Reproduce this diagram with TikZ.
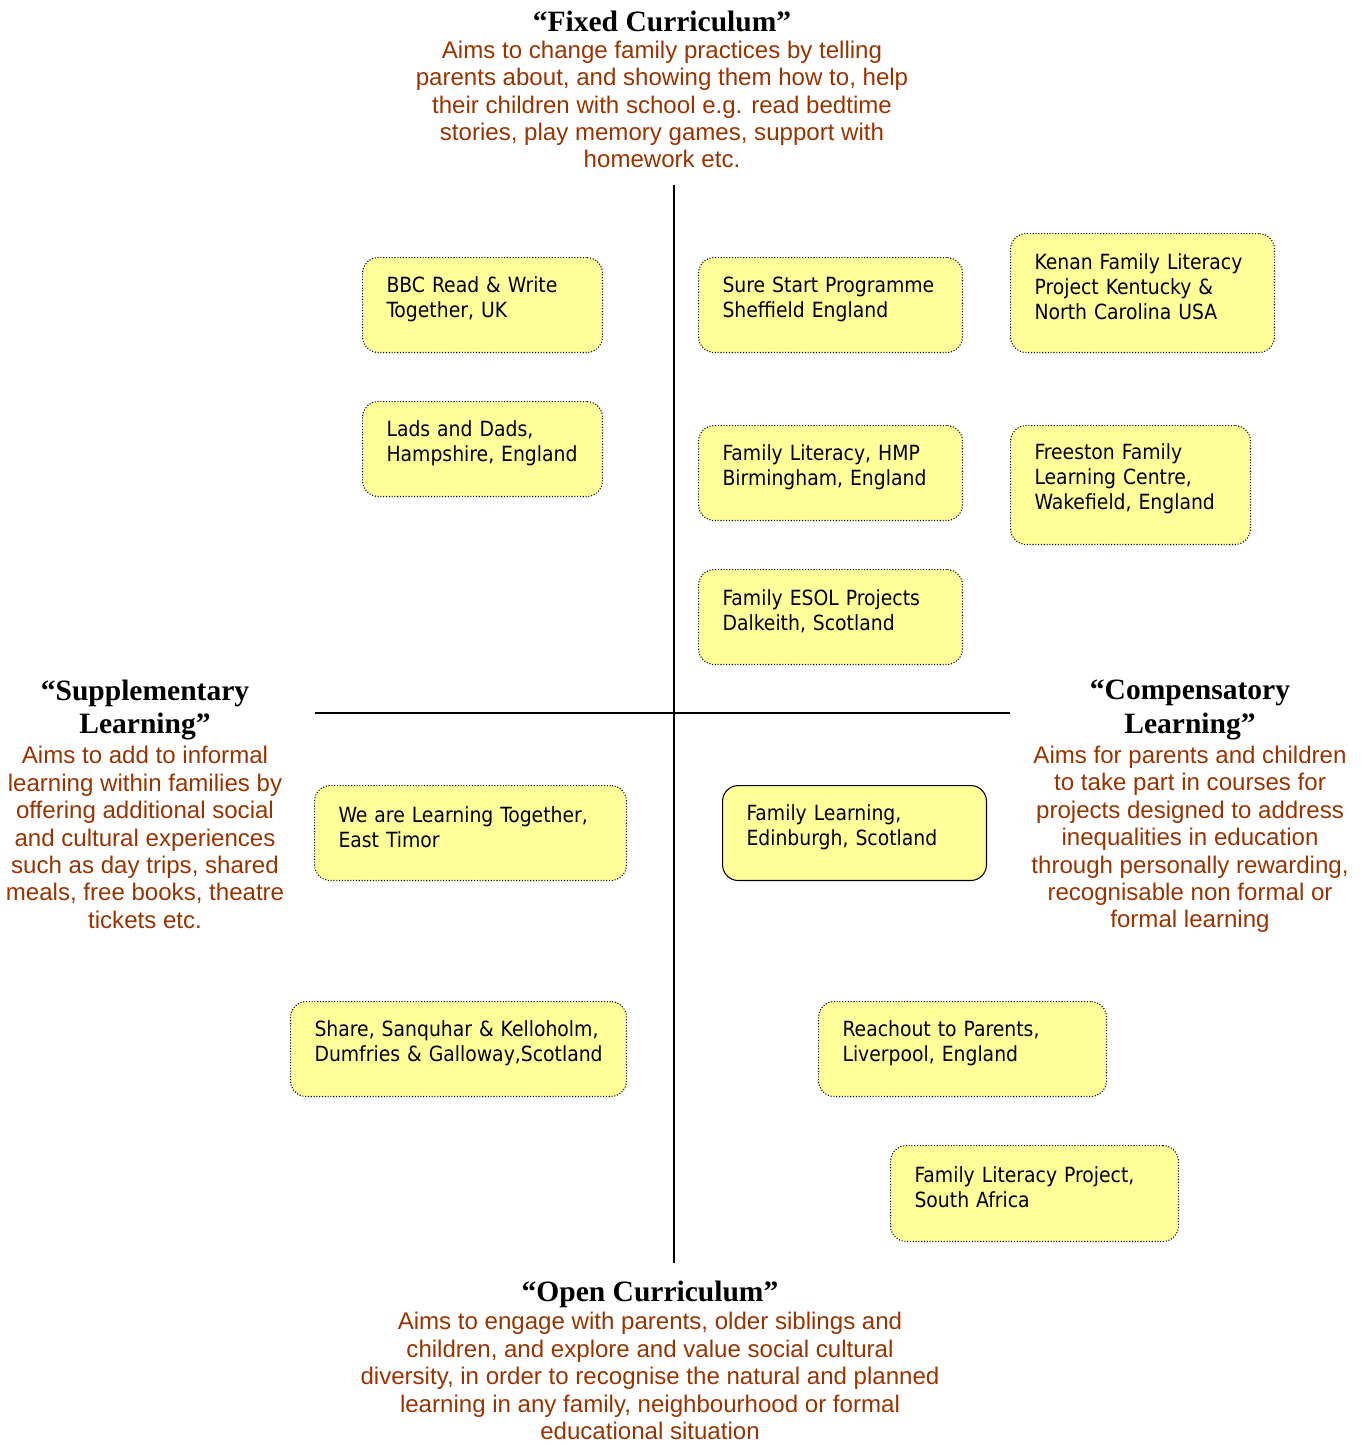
\documentclass[tikz,border=0pt]{standalone}
\usepackage{fontspec}
\setmainfont{Liberation Serif}
\newfontfamily\aimfont{Liberation Sans}
\newfontfamily\cardfont{DejaVu Sans Condensed}
\usetikzlibrary{positioning}
\definecolor{rust}{RGB}{153,51,0}
\definecolor{paleyellow}{RGB}{255,255,153}

\tikzset{
  head/.style={inner sep=0pt, align=center, font=\bfseries\fontsize{16.8}{19.3}\selectfont},
  aim/.style={inner sep=0pt, align=center, text=rust, font=\aimfont\fontsize{13.7}{15.6}\selectfont},
  card/.style 2 args={draw, densely dotted, line width=0.6pt, fill=paleyellow,
    rounded corners=9pt, anchor=north west, inner xsep=4.8mm, inner ysep=0pt,
    align=left, font=\cardfont\fontsize{11.9}{14.2}\selectfont,
    execute at end node={\par\vspace*{6.8pt}},
    minimum width=#1*0.2mm, minimum height=#2*0.2mm, text width=#1*0.2mm-9.6mm},
  axis/.style={line width=0.9pt}
}

\begin{document}
\begin{tikzpicture}[x=0.02cm, y=-0.02cm]
  \useasboundingbox (0,0) rectangle (1360,1444);

  % axes
  \coordinate (top) at (674,185);
  \coordinate (bottom) at (674,1263);
  \coordinate (left) at (315,713);
  \coordinate (right) at (1010,713);
  \draw[axis] (top) -- (bottom);
  \draw[axis] (left) -- (right);

  % the four poles
  \node[head] (fixedhead) at (662,21) {“Fixed Curriculum”};
  \node[aim, below=5pt of fixedhead] (fixedaim) {Aims to change family practices by telling\\
    parents about, and showing them how to, help\\
    their children with school e.g. read bedtime\\
    stories, play memory games, support with\\
    homework etc.};

  \node[head] (supphead) at (145,710) {“Supplementary\\Learning”};
  \node[aim, below=3pt of supphead] (suppaim) {Aims to add to informal\\
    learning within families by\\
    offering additional social\\
    and cultural experiences\\
    such as day trips, shared\\
    meals, free books, theatre\\
    tickets etc.};

  \node[head] (comphead) at (1190,710) {“Compensatory\\Learning”};
  \node[aim, below=3pt of comphead] (compaim) {Aims for parents and children\\
    to take part in courses for\\
    projects designed to address\\
    inequalities in education\\
    through personally rewarding,\\
    recognisable non formal or\\
    formal learning};

  \node[head] (openhead) at (650,1294) {“Open Curriculum”};
  \node[aim, below=2.5pt of openhead] (openaim) {Aims to engage with parents, older siblings and\\
    children, and explore and value social cultural\\
    diversity, in order to recognise the natural and planned\\
    learning in any family, neighbourhood or formal\\
    educational situation};

  % projects
  \node[card={240}{95}] (bbc) at (362,257) {BBC Read \& Write\\Together, UK};
  \node[card={240}{95}] (lads) at (362,401) {Lads and Dads,\\Hampshire, England};
  \node[card={264}{95}] (surestart) at (698,257) {Sure Start Programme\\Sheffield England};
  \node[card={264}{119}] (kenan) at (1010,233) {Kenan Family Literacy\\Project Kentucky \&\\North Carolina USA};
  \node[card={264}{95}] (hmp) at (698,425) {Family Literacy, HMP\\Birmingham, England};
  \node[card={240}{119}] (freeston) at (1010,425) {Freeston Family\\Learning Centre,\\Wakefield, England};
  \node[card={264}{95}] (esol) at (698,569) {Family ESOL Projects\\Dalkeith, Scotland};
  \node[card={312}{95}] (timor) at (314,785) {We are Learning Together,\\East Timor};
  \node[card={264}{95}, solid] (edinburgh) at (722,785) {Family Learning,\\Edinburgh, Scotland};
  \node[card={336}{95}] (share) at (290,1001) {\mbox{Share, Sanquhar \& Kelloholm,}\\\mbox{Dumfries \& Galloway,Scotland}};
  \node[card={288}{95}] (reachout) at (818,1001) {Reachout to Parents,\\Liverpool, England};
  \node[card={288}{96}] (safrica) at (890,1145) {Family Literacy Project,\\South Africa};
\end{tikzpicture}
\end{document}
